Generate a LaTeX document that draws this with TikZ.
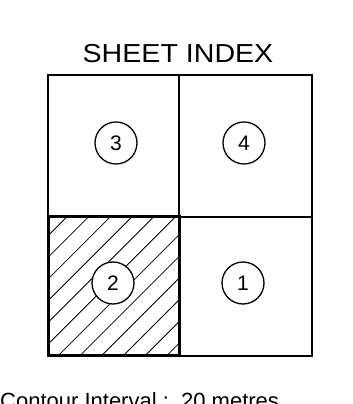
\documentclass[tikz,border=0pt]{standalone}
\usepackage{fontspec}
\setmainfont{Liberation Sans}
\begin{document}
\begin{tikzpicture}[x=1pt,y=1pt,
  gridline/.style={line width=1.4pt},
  boldline/.style={line width=3pt},
  hatchline/.style={line width=0.8pt},
  numcircle/.style={circle,draw,line width=1.3pt,fill=white,minimum size=42pt,inner sep=0pt,font=\fontsize{21}{22}\selectfont},
  lbl/.style={inner sep=0pt}]
\useasboundingbox (0,0) rectangle (353,404);
% hatching of sheet 2
\begin{scope}
\clip (48,48) rectangle (179,187);
\foreach \n in {0,...,16}{
  \pgfmathsetmacro{\k}{-120.3-21.7*4+21.7*\n}
  \draw[hatchline] (\k+48,48) -- ++(160,160);
}
\end{scope}
% grid
\draw[gridline] (48,48) rectangle (312,329);
\draw[gridline] (179,48) -- (179,329);
\draw[gridline] (48,187) -- (312,187);
\draw[boldline] (48,48) rectangle (179,187);
% circles
\node[numcircle] (c3) at (116,261) {3};
\node[numcircle] (c4) at (244,261) {4};
\node[numcircle] (c2) at (113,121) {2};
\node[numcircle] (c1) at (243,121) {1};
% texts
\node[lbl,anchor=base] (title) at (178,341) {\scalebox{1.1}[1]{\fontsize{26}{28}\selectfont SHEET INDEX}};
\node[lbl,anchor=north west] (ci) at (0,12) {\fontsize{22}{24}\selectfont Contour Interval :\ \ 20 metres};
\end{tikzpicture}
\end{document}
